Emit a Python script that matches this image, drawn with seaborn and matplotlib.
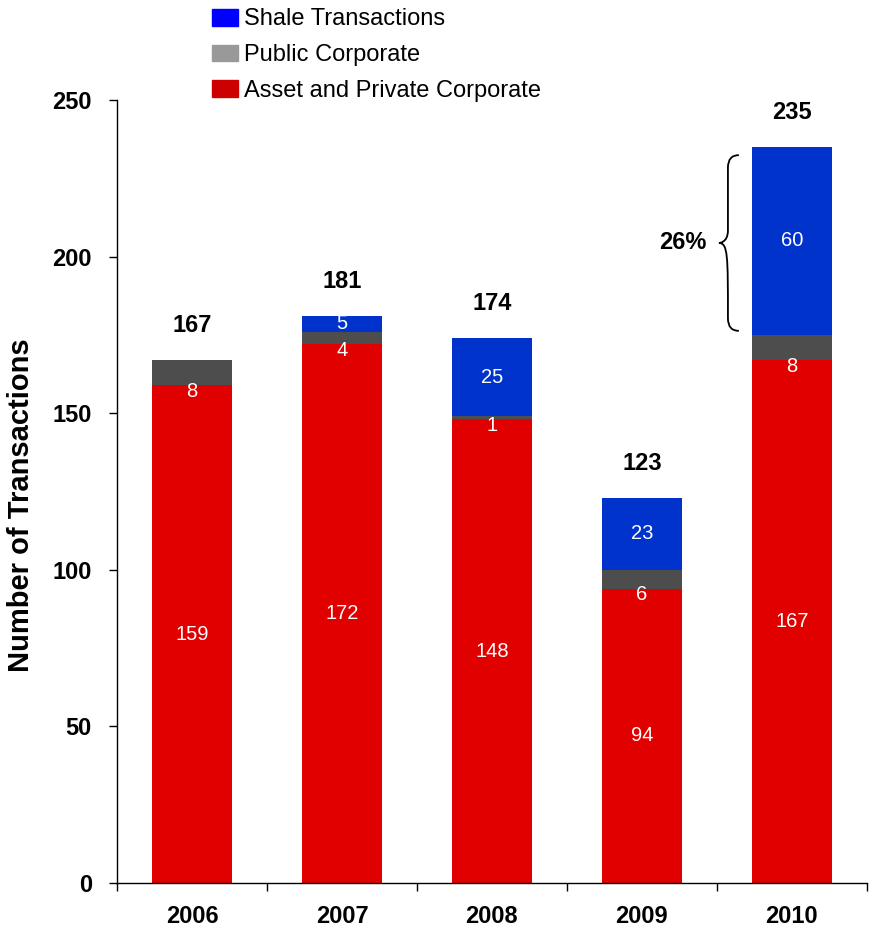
import seaborn as sns
import matplotlib.pyplot as plt
import pandas as pd
from matplotlib.patches import Patch, PathPatch
from matplotlib.path import Path

years = ['2006', '2007', '2008', '2009', '2010']
asset_private = [159, 172, 148, 94, 167]
public_corp = [8, 4, 1, 6, 8]
shale = [0, 5, 25, 23, 60]

red = '#E00000'
gray = '#4D4D4D'
blue = '#0033CC'

df = pd.DataFrame({'year': years, 'red': asset_private, 'gray': public_corp, 'blue': shale})
df['red_gray'] = df['red'] + df['gray']
df['total'] = df['red_gray'] + df['blue']

sns.set_style("white")
plt.rcParams['font.family'] = ['Liberation Sans', 'DejaVu Sans']
plt.rcParams['text.color'] = 'black'
plt.rcParams['axes.labelcolor'] = 'black'
plt.rcParams['xtick.color'] = 'black'
plt.rcParams['ytick.color'] = 'black'

fig = plt.figure(figsize=(8.73, 9.4), dpi=100)
ax = fig.add_axes([0.134, 0.0606, 0.859, 0.833])

# stacked bars drawn as overlapping cumulative totals
w = 0.533
for col, c in [('total', blue), ('red_gray', gray), ('red', red)]:
    sns.barplot(data=df, x='year', y=col, color=c, width=w, saturation=1,
                linewidth=0, edgecolor='none', ax=ax)

ax.set_ylim(0, 250)
ax.set_xlim(-0.5, 4.5)
ax.set_yticks(range(0, 251, 50))
ax.set_xticks(range(len(years)))
ax.set_xticklabels(years)
ax.set_xticks([i - 0.5 for i in range(len(years) + 1)], minor=True)
ax.tick_params(axis='x', which='major', length=0, pad=16)
ax.tick_params(axis='x', which='minor', length=6, width=1, direction='out', bottom=True)
ax.tick_params(axis='y', length=6, width=1, direction='out', left=True, pad=12)
for lbl in ax.get_xticklabels() + ax.get_yticklabels():
    lbl.set_fontsize(17)
    lbl.set_fontweight('bold')

for s in ['top', 'right']:
    ax.spines[s].set_visible(False)
for s in ['left', 'bottom']:
    ax.spines[s].set_color('black')
    ax.spines[s].set_linewidth(1)

ax.set_xlabel('')
ax.set_ylabel('Number of Transactions', fontsize=21, fontweight='bold')
ax.yaxis.set_label_coords(-0.109, 0.482)

# value labels
for i, row in df.iterrows():
    ax.text(i, row['red'] / 2, str(row['red']), color='white', ha='center', va='center', fontsize=14.5)
    ax.text(i, row['red'] - 2, str(row['gray']), color='white', ha='center', va='center', fontsize=14.5)
    if row['blue'] > 0:
        ax.text(i, row['red_gray'] + row['blue'] / 2, str(row['blue']), color='white',
                ha='center', va='center', fontsize=14.5)
    ax.text(i, row['total'] + 11, str(row['total']), color='black', ha='center', va='center',
            fontsize=17, fontweight='bold')

# brace next to the 2010 shale segment
last = len(years) - 1
y_top = df['total'][last] - 2.6
y_bot = df['red_gray'][last] + 1.3
y_mid = (y_top + y_bot) / 2
left = last - w / 2
x_end, x_line, x_tip = left - 0.087, left - 0.16, left - 0.22
r = 4
verts = [(x_end, y_top), (x_line, y_top), (x_line, y_top - r),
         (x_line, y_mid + r),
         (x_line, y_mid), (x_tip, y_mid), (x_tip, y_mid),
         (x_line, y_mid), (x_line, y_mid - r),
         (x_line, y_bot + r),
         (x_line, y_bot), (x_end, y_bot)]
codes = [Path.MOVETO, Path.CURVE3, Path.CURVE3,
         Path.LINETO,
         Path.CURVE4, Path.CURVE4, Path.CURVE4,
         Path.CURVE4, Path.CURVE4,
         Path.LINETO,
         Path.CURVE3, Path.CURVE3]
ax.add_patch(PathPatch(Path(verts, codes), fill=False, lw=1.3, color='black', clip_on=False))
pct = round(df['blue'][last] / df['total'][last] * 100)
ax.text(x_tip - 0.24, y_mid, f'{pct}%', ha='center', va='center', fontsize=17, fontweight='bold')

# legend (its swatches use lighter colours than the bars)
handles = [Patch(color='#0000FF'), Patch(color='#999999'), Patch(color='#CC0000')]
labels = ['Shale Transactions', 'Public Corporate', 'Asset and Private Corporate']
fig.legend(handles, labels, loc='upper left', bbox_to_anchor=(0.238, 0.996), frameon=False,
           fontsize=17, handlelength=1.1, handleheight=0.72, handletextpad=0.25,
           labelspacing=0.58, borderaxespad=0, borderpad=0.2)

fig.savefig('out.png', dpi=100)
